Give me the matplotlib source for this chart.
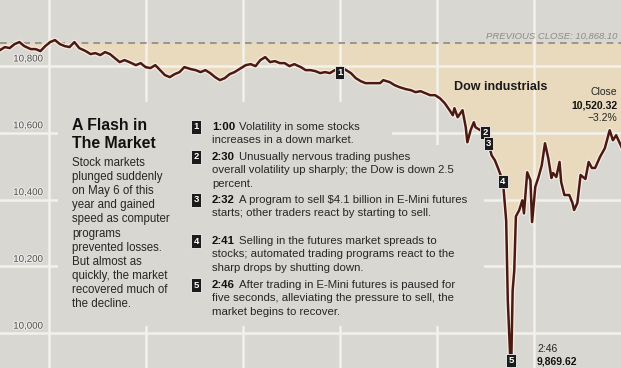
import numpy as np
import matplotlib.pyplot as plt
import matplotlib.patheffects as pe
from matplotlib.patches import Polygon

plt.rcParams['font.family'] = ['Liberation Sans', 'DejaVu Sans']

#### Dow industrials, May 6, minutes after the 9:30 open

prev_close = 10868.10
close_value = 10520.32
close_change = '\u22123.2%'
low_value = 9869.62
low_time = '2:46'

minutes = [0, 3, 6, 9, 12, 15, 19, 22, 25, 28,
           31, 34, 37, 40, 43, 46, 49, 53, 56, 59,
           62, 65, 68, 71, 74, 77, 80, 84, 87, 90,
           93, 96, 99, 102, 105, 108, 111, 114, 118, 121,
           124, 127, 130, 133, 136, 139, 142, 145, 148, 152,
           155, 158, 161, 164, 167, 170, 173, 176, 179, 182,
           186, 189, 192, 195, 198, 201, 204, 207, 210, 213,
           217, 220, 223, 226, 229, 232, 235, 237, 241, 244,
           247, 251, 254, 257, 260, 263, 266, 269, 272, 275,
           278, 280, 281, 283, 286, 288, 289, 291, 293, 294,
           297, 300, 302, 304, 306, 308, 311, 313, 314, 316,
           317, 318, 319, 321, 323, 324, 326, 328, 329, 331,
           333, 335, 337, 339, 341, 342, 344, 346, 347, 349,
           352, 354, 355, 357, 359, 362, 364, 366, 368, 371,
           374, 375, 377, 379, 381, 383, 386, 390]
dow = [10848, 10857, 10854, 10866, 10872, 10860, 10851, 10851, 10845, 10860,
       10872, 10878, 10866, 10860, 10857, 10872, 10854, 10845, 10836, 10839,
       10833, 10842, 10836, 10824, 10812, 10818, 10812, 10803, 10809, 10797,
       10794, 10803, 10788, 10773, 10767, 10776, 10782, 10797, 10791, 10788,
       10782, 10788, 10779, 10767, 10758, 10764, 10776, 10782, 10791, 10803,
       10806, 10800, 10818, 10827, 10812, 10815, 10809, 10809, 10800, 10806,
       10797, 10788, 10788, 10785, 10779, 10782, 10779, 10788, 10782, 10791,
       10779, 10764, 10755, 10749, 10749, 10749, 10749, 10758, 10752, 10743,
       10737, 10731, 10728, 10722, 10725, 10719, 10713, 10713, 10704, 10689,
       10668, 10653, 10674, 10647, 10668, 10617, 10572, 10608, 10632, 10617,
       10608, 10600, 10569, 10533, 10518, 10494, 10455, 10338, 10098, 9869.62,
       10128, 10188, 10350, 10368, 10398, 10359, 10482, 10458, 10333, 10438,
       10468, 10503, 10569, 10525, 10465, 10480, 10468, 10513, 10453, 10414,
       10414, 10390, 10369, 10390, 10474, 10462, 10513, 10495, 10495, 10528,
       10554, 10572, 10608, 10578, 10593, 10572, 10540, 10520.32]

grid_levels = [10000, 10200, 10400, 10600, 10800]
grid_labels = ['10,000', '10,200', '10,400', '10,600', '10,800']
hour_marks = [30, 90, 150, 210, 270, 330]   # 10:00 ... 3:00

event_ids = ['1', '2', '3', '4', '5']
event_minutes = [210, 300, 302, 311, 316]
event_times = ['1:00', '2:30', '2:32', '2:41', '2:46']
event_text = [
    ['Volatility in some stocks', 'increases in a down market.'],
    ['Unusually nervous trading pushes',
     'overall volatility up sharply; the Dow is down 2.5', 'percent.'],
    ['A program to sell \\$4.1 billion in E-Mini futures',
     'starts; other traders react by starting to sell.'],
    ['Selling in the futures market spreads to',
     'stocks; automated trading programs react to the',
     'sharp drops by shutting down.'],
    ['After trading in E-Mini futures is paused for',
     'five seconds, alleviating the pressure to sell, the',
     'market begins to recover.'],
]

title = ['A Flash in', 'The Market']
blurb = ['Stock markets', 'plunged suddenly', 'on May 6 of this', 'year and gained',
         'speed as computer', 'programs', 'prevented losses.', 'But almost as',
         'quickly, the market', 'recovered much of', 'the decline.']

bg = '#d9d7d1'
tan = '#e9d9bd'
gridc = '#f3f1ec'
linec = '#4a1a12'
ink = '#262626'

W, H = 621, 368
def fx(px):
    return px / W
def fy(py):
    return 1 - py / H

fig = plt.figure(figsize=(W / 100, H / 100), dpi=100)
fig.patch.set_facecolor(bg)
ax = fig.add_axes([0, 0, 1, 1])
ax.set_facecolor(bg)
for s in ax.spines.values():
    s.set_visible(False)
ax.set_xticks([])
ax.set_yticks([])
ax.set_xlim(0, 384)
ax.set_ylim(9896, 10998)

t = np.array(minutes, dtype=float)
v = np.array(dow, dtype=float)

ax.fill_between(t, v, prev_close, where=v < prev_close, interpolate=True,
                color=tan, lw=0, zorder=0.5)

for lv in grid_levels:
    ax.axhline(lv, color=gridc, lw=1.8, zorder=1)
for hm in hour_marks:
    ax.axvline(hm, color=gridc, lw=1.8, zorder=1)

# text block hides the grid behind it
cover = Polygon([(fx(58), fy(102)), (fx(392), fy(102)), (fx(392), fy(145)),
                 (fx(484), fy(145)), (fx(484), fy(326)), (fx(58), fy(326))],
                closed=True, transform=ax.transAxes, fc=bg, ec='none', zorder=1.5)
ax.add_patch(cover)

ax.axhline(prev_close, color='#8e8a84', lw=1.2, ls=(0, (4, 3)), zorder=2)
ax.text(fx(617), fy(36), f'PREVIOUS CLOSE: {prev_close:,.2f}', transform=ax.transAxes,
        ha='right', va='center', fontsize=6.8, style='italic', color='#8d8b86', zorder=4)

ax.plot(t, v, color=linec, lw=1.8, zorder=3, solid_joinstyle='round',
        path_effects=[pe.Stroke(linewidth=3.6, foreground='#f6ece4'), pe.Normal()])

for lv, lab in zip(grid_levels, grid_labels):
    ax.annotate(lab, xy=(fx(28), lv), xycoords=('axes fraction', 'data'),
                xytext=(0, 5.5), textcoords='offset points', ha='center', va='center',
                fontsize=7, color='#4c4c4c', zorder=4,
                path_effects=[pe.withStroke(linewidth=1.5, foreground='#eeece8')])

box = dict(boxstyle='square,pad=0.22', fc='#1b1b1b', ec='#f2f2f2', lw=0.6)

# numbered markers on the line (the last one sits at the low, just above the edge)
marker_lift = [0, 0, 0, 0, 11.5]
for eid, em, lift in zip(event_ids, event_minutes, marker_lift):
    ev = np.interp(em, t, v)
    ax.annotate(eid, xy=(em, ev), xytext=(0, lift), textcoords='offset points',
                ha='center', va='center', fontsize=6.8, fontweight='bold',
                color='white', bbox=box, zorder=5, annotation_clip=False)

# left blurb
for i, line in enumerate(title):
    ax.text(fx(72), fy(125 + 18 * i), line, transform=ax.transAxes, ha='left', va='center',
            fontsize=11.4, fontweight='bold', color='#111111', zorder=4)
for i, line in enumerate(blurb):
    ax.text(fx(72), fy(163 + 14.1 * i), line, transform=ax.transAxes, ha='left', va='center',
            fontsize=8.3, color=ink, zorder=4)

# numbered list
item_y = [127, 157, 200, 241, 285]
gap = 13.4
for eid, et, lines, y0 in zip(event_ids, event_times, event_text, item_y):
    ax.text(fx(196), fy(y0), eid, transform=ax.transAxes, ha='center', va='center',
            fontsize=6.8, fontweight='bold', color='white', bbox=box, zorder=4)
    tt = ax.text(fx(212), fy(y0), et, transform=ax.transAxes, ha='left', va='center',
                 fontsize=8.2, fontweight='bold', color='#111111', zorder=4)
    ax.annotate(lines[0], xy=(1, 0.5), xycoords=tt, xytext=(3, 0), textcoords='offset points',
                ha='left', va='center', fontsize=8.2, color=ink, zorder=4)
    for j, line in enumerate(lines[1:], start=1):
        ax.text(fx(212), fy(y0 + gap * j), line, transform=ax.transAxes, ha='left',
                va='center', fontsize=8.2, color=ink, zorder=4)

ax.text(fx(501), fy(87), 'Dow industrials', transform=ax.transAxes, ha='center', va='center',
        fontsize=9, fontweight='bold', color='#1a1a1a', zorder=4)
ax.text(fx(617), fy(92), 'Close', transform=ax.transAxes, ha='right', va='center',
        fontsize=7.5, color=ink, zorder=4)
ax.text(fx(617), fy(105), f'{close_value:,.2f}', transform=ax.transAxes, ha='right',
        va='center', fontsize=7.5, fontweight='bold', color='#111111', zorder=4)
ax.text(fx(617), fy(118), close_change, transform=ax.transAxes, ha='right', va='center',
        fontsize=7.5, color=ink, zorder=4)

ax.text(fx(537), fy(349), low_time, transform=ax.transAxes, ha='left', va='center',
        fontsize=7.5, color=ink, zorder=4)
ax.text(fx(537), fy(362), f'{low_value:,.2f}', transform=ax.transAxes, ha='left',
        va='center', fontsize=7.5, fontweight='bold', color='#111111', zorder=4)

fig.savefig('out.png', dpi=100, facecolor=bg)
